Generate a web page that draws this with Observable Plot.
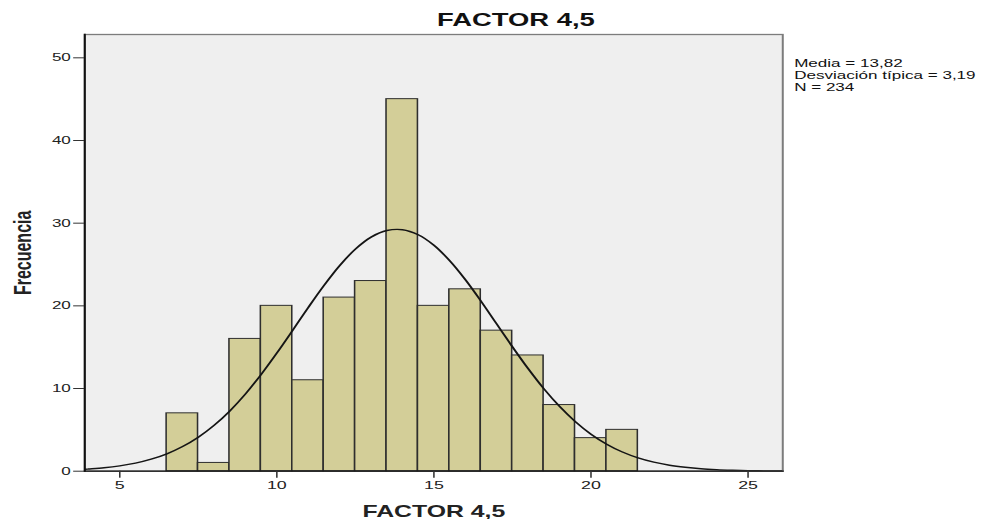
<!DOCTYPE html>
<html><head><meta charset="utf-8">
<script src="https://cdn.jsdelivr.net/npm/d3@7"></script>
<script src="https://cdn.jsdelivr.net/npm/@observablehq/plot@0.6"></script>
<style>
html,body{margin:0;padding:0;background:#fff;overflow:hidden;width:990px;height:519px}
#wrap{position:absolute;left:0;top:0;width:639px;height:519px;transform:scaleX(1.5493);transform-origin:0 0;font-family:"Liberation Sans",Arial,sans-serif}
#title{position:absolute;left:0;width:666px;top:11.7px;text-align:center;font-size:17.7px;line-height:17.7px;font-weight:bold;color:#111}
#stats{position:absolute;left:512.6px;top:58px;font-size:11px;line-height:11.8px;color:#111;white-space:nowrap}
#chart{position:absolute;left:0;top:30px}
#chart svg{font-family:"Liberation Sans",Arial,sans-serif}
#chart g[aria-label="y-axis label"] text,#chart g[aria-label="x-axis label"] text{font-size:16px;font-weight:bold}
</style>
</head><body>
<div id="wrap">
  <div id="title"></div>
  <div id="chart"></div>
  <div id="stats"></div>
</div>
<script>
// ---- data ----
const chartTitle = "FACTOR 4,5";
const xLabel = "FACTOR 4,5";
const yLabel = "Frecuencia";
const binCenters = [7, 8, 9, 10, 11, 12, 13, 14, 15, 16, 17, 18, 19, 20, 21];
const frequencies = [7, 1, 16, 20, 11, 21, 23, 45, 20, 22, 17, 14, 8, 4, 5];
const binWidth = 1;
// fitted normal curve
const curveX = [3.9, 4, 4.5, 5, 5.5, 6, 6.5, 7, 7.5, 8, 8.5, 9, 9.5, 10, 10.5, 11, 11.5, 12, 12.5, 13, 13.5, 14, 14.5, 15, 15.5, 16, 16.5, 17, 17.5, 18, 18.5, 19, 19.5, 20, 20.5, 21, 21.5, 22, 22.5, 23, 23.5, 24, 24.5, 25, 25.5, 26, 26.1];
const curveY = [0.23, 0.26, 0.41, 0.64, 0.97, 1.45, 2.10, 2.98, 4.11, 5.54, 7.28, 9.34, 11.70, 14.29, 17.02, 19.80, 22.46, 24.87, 26.86, 28.31, 29.11, 29.21, 28.60, 27.33, 25.47, 23.17, 20.56, 17.80, 15.04, 12.40, 9.97, 7.83, 6.00, 4.48, 3.27, 2.32, 1.61, 1.09, 0.72, 0.47, 0.29, 0.18, 0.11, 0.06, 0.04, 0.02, 0.02];
const statsLines = ["Media = 13,82", "Desviación típica = 3,19", "N = 234"];
const xTicks = [5, 10, 15, 20, 25];
const yTicks = [0, 10, 20, 30, 40, 50];
const xDomain = [3.886, 26.105];
const yDomain = [0, 52.82];

// ---- build ----
const bars = binCenters.map((c, i) => ({x1: c - binWidth / 2, x2: c + binWidth / 2, y: frequencies[i]}));
const curve = curveX.map((x, i) => ({x, y: curveY[i]}));

document.getElementById("title").textContent = chartTitle;
const stats = document.getElementById("stats");
statsLines.forEach(t => { const d = document.createElement("div"); d.textContent = t; stats.appendChild(d); });

const svg = Plot.plot({
  width: 639,
  height: 489,
  marginLeft: 54.22,
  marginRight: 134.26,
  marginTop: 4,
  marginBottom: 48.3,
  style: {background: "transparent", fontSize: "11px", color: "#222"},
  x: {domain: xDomain},
  y: {domain: yDomain},
  marks: [
    Plot.frame({fill: "#efefef", stroke: "#7c7c7c", strokeWidth: 1.3}),
    Plot.rectY(bars, {x1: "x1", x2: "x2", y: "y", fill: "#d3ce98", stroke: "#2e2e2e", strokeWidth: 1, inset: 0}),
    Plot.line(curve, {x: "x", y: "y", curve: "catmull-rom", stroke: "#151515", strokeWidth: 1.4, clip: true}),
    Plot.frame({anchor: "left", stroke: "#111", strokeWidth: 1.3}),
    Plot.frame({anchor: "bottom", stroke: "#111", strokeWidth: 1.3}),
    Plot.axisY({ticks: yTicks, tickSize: 7, tickPadding: 2, fontSize: 11, stroke: "#333", fill: "#222",
      label: yLabel, labelAnchor: "center", labelArrow: "none", labelOffset: 46}),
    Plot.axisX({ticks: xTicks, tickSize: 7, tickPadding: 3, fontSize: 11.5, stroke: "#333", fill: "#222",
      label: xLabel, labelAnchor: "center", labelArrow: "none"})
  ]
});
document.getElementById("chart").appendChild(svg);
</script>
</body></html>
